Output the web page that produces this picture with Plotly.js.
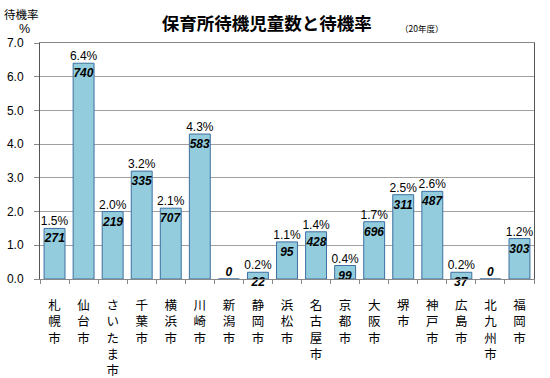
<!DOCTYPE html>
<html>
<head>
<meta charset="utf-8">
<script src="https://cdn.plot.ly/plotly-3.0.1.min.js"></script>
<style>html,body{margin:0;padding:0;background:#fff;}#chart{width:550px;height:378px;}</style>
</head>
<body>
<div id="chart"></div>
<script>
const cities = ["札幌市","仙台市","さいたま市","千葉市","横浜市","川崎市","新潟市","静岡市","浜松市","名古屋市","京都市","大阪市","堺市","神戸市","広島市","北九州市","福岡市"];
const rates = [1.5, 6.4, 2.0, 3.2, 2.1, 4.3, 0, 0.2, 1.1, 1.4, 0.4, 1.7, 2.5, 2.6, 0.2, 0, 1.2];
const waiting = [271, 740, 219, 335, 707, 583, 0, 22, 95, 428, 99, 696, 311, 487, 37, 0, 303];
const yTicks = [0, 1, 2, 3, 4, 5, 6, 7];

const vertLabels = cities.map(c => Array.from(c).join("<br>"));
const countFont = {family: "Liberation Sans, Arial, sans-serif", size: 12, color: "#000", weight: "bold", style: "italic"};

const bars = {
  type: "bar", x: cities, y: rates,
  marker: {color: "#93CDDD", line: {color: "#3E6FA0", width: 1}},
  text: waiting.map(String),
  textposition: "inside", insidetextanchor: "end", constraintext: "none", textangle: 0,
  insidetextfont: countFont,
  hoverinfo: "skip", cliponaxis: false
};
const rateLabels = {
  type: "scatter", mode: "text", x: cities, y: rates,
  text: rates.map(r => r > 0 ? r.toFixed(1) + "%" : ""),
  textposition: "top center",
  textfont: {family: "Liberation Sans, Arial, sans-serif", size: 12, color: "#000"},
  hoverinfo: "skip", cliponaxis: false
};
const zeroLabels = {
  type: "scatter", mode: "text", x: cities, y: rates,
  text: waiting.map((w, i) => rates[i] > 0 ? "" : String(w)),
  textposition: "top center",
  textfont: countFont,
  hoverinfo: "skip", cliponaxis: false
};

const layout = {
  width: 550, height: 378,
  margin: {l: 40, r: 16, t: 43, b: 99},
  paper_bgcolor: "#fff", plot_bgcolor: "#fff",
  showlegend: false,
  bargap: 0.28,
  title: {
    text: "保育所待機児童数と待機率",
    font: {family: "Noto Sans CJK JP, sans-serif", size: 17.5, color: "#000", weight: "bold"},
    x: 0.459, xref: "paper", xanchor: "center", y: 0.936, yanchor: "middle"
  },
  xaxis: {
    type: "category",
    range: [-0.5, cities.length - 0.5],
    tickvals: cities, ticktext: vertLabels,
    tickangle: 0,
    tickson: "boundaries", ticks: "outside", ticklen: 4, tickcolor: "#888",
    ticklabelstandoff: 15,
    tickfont: {family: "Noto Sans CJK JP, sans-serif", size: 12.5, color: "#000"},
    showline: true, linecolor: "#888", linewidth: 1, mirror: true,
    showgrid: false, fixedrange: true
  },
  yaxis: {
    range: [0, 7], tickvals: yTicks, ticktext: yTicks.map(v => v.toFixed(1)),
    ticks: "outside", ticklen: 5, tickcolor: "#888",
    ticklabelstandoff: 8,
    tickfont: {family: "Liberation Sans, Arial, sans-serif", size: 12, color: "#000"},
    showgrid: true, gridcolor: "#a0a0a0", gridwidth: 1,
    showline: true, linecolor: "#555", linewidth: 1, mirror: true,
    zeroline: false, fixedrange: true
  },
  annotations: [
    {text: "待機率", xref: "paper", yref: "paper", x: -0.076, y: 1.125, xanchor: "left", yanchor: "middle", showarrow: false,
     font: {family: "Noto Sans CJK JP, sans-serif", size: 11.5, color: "#000"}},
    {text: "%", xref: "paper", yref: "paper", x: -0.032, y: 1.058, xanchor: "center", yanchor: "middle", showarrow: false,
     font: {family: "Liberation Sans, Arial, sans-serif", size: 12.5, color: "#000"}},
    {text: "（20年度）", xref: "paper", yref: "paper", x: 0.725, y: 1.065, xanchor: "left", yanchor: "middle", showarrow: false,
     font: {family: "Noto Sans CJK JP, sans-serif", size: 8.5, color: "#000"}}
  ]
};

Plotly.newPlot("chart", [bars, rateLabels, zeroLabels], layout, {displayModeBar: false, staticPlot: true});
</script>
</body>
</html>
